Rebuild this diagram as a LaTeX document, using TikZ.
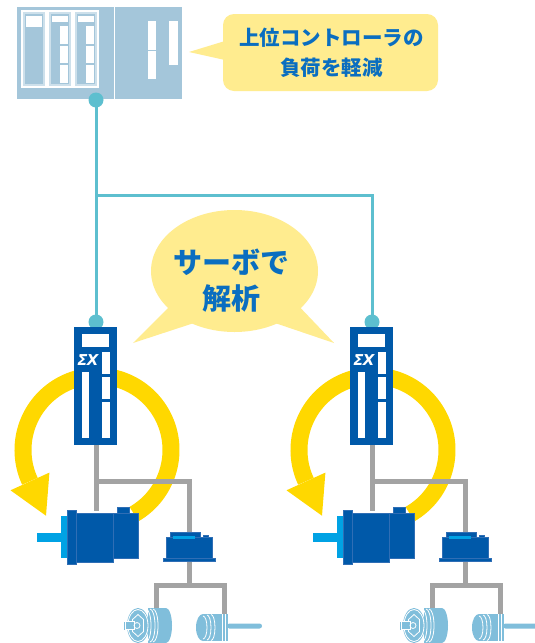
\documentclass[tikz,border=0pt]{standalone}
\usepackage{fontspec}
\newfontfamily\jpfont{Noto Sans CJK JP}
\newfontfamily\logofont{DejaVu Sans}
\definecolor{plcblue}{HTML}{A4C6DA}
\definecolor{linkteal}{HTML}{5DBFCF}
\definecolor{bubble}{HTML}{FFEC8F}
\definecolor{textblue}{HTML}{0A6EC0}
\definecolor{driveblue}{HTML}{0059A9}
\definecolor{edgeblue}{HTML}{2F6EB5}
\definecolor{ringgold}{HTML}{FFD800}
\definecolor{cablegray}{HTML}{A3A3A3}
\definecolor{flangecyan}{HTML}{00A2E4}
\definecolor{loadblue}{HTML}{80BEDB}
\tikzset{
  link/.style={draw=linkteal, line width=3pt},
  port/.style={circle, fill=linkteal, minimum size=15pt, inner sep=0},
  cable/.style={draw=cablegray, line width=5pt},
  ringarc/.style={draw=ringgold, line width=17pt},
  drivebox/.style={fill=driveblue, minimum width=43pt, minimum height=118pt, inner sep=0},
  slot/.style={fill=white},
  motorpart/.style={fill=driveblue, draw=edgeblue, line width=0.5pt},
  loadpart/.style={fill=loadblue},
  rib/.style={draw=white, line width=0.8pt},
}
\begin{document}
\begin{tikzpicture}[x=1pt, y=-1pt]
\useasboundingbox[fill=white] (0,0) rectangle (535,643);

% upper controller rack
\node[fill=plcblue, minimum width=165pt, minimum height=92pt, inner sep=0] (plc) at (99.5,53) {};
\draw[white, line width=1pt] (114,7) -- (114,99);
\foreach \mx in {22,48,74}{
  \draw[white!45!plcblue, line width=1.6pt] ({\mx+2},13) rectangle ({\mx+22},85);
  \draw[white, line width=1.1pt] (\mx,11) rectangle ({\mx+24},87);
}
\fill[slot] (26,16) rectangle (42,27);
\foreach \mx in {48,74}{
  \fill[slot] ({\mx+4},16) rectangle ({\mx+20},22);
  \fill[slot] ({\mx+12},26) rectangle ({\mx+20},44);
  \fill[slot] ({\mx+12},45.5) rectangle ({\mx+20},63);
  \fill[slot] ({\mx+12},65) rectangle ({\mx+20},83);
}
\fill[slot] (148,21) rectangle (156,49.5);
\fill[slot] (148,51) rectangle (156,79);
\fill[slot] (169,21) rectangle (178,65);

% communication link
\coordinate (plcport) at (96,100);
\coordinate (bus) at (96,195);
\coordinate (portL) at (96,322);
\coordinate (portR) at (372,322);
\draw[link] (plcport) -- (bus) -- (portL);
\draw[link] (bus) -| (portR);
\node[port] (plcdot) at (plcport) {};

% callout: load reduction
\fill[bubble, rounded corners=11pt] (223,14) rectangle (438,91);
\fill[bubble] (225,41) -- (189,52) -- (225,60) -- cycle;
\node[text=textblue, font=\jpfont\bfseries\fontsize{20.5}{30}\selectfont, align=center, inner sep=0] (noteText) at (331.5,53) {上位コントローラの\\負荷を軽減};

% callout: analysis in the servo
\fill[bubble] (234.5,271) ellipse [x radius=83.5, y radius=61];
\fill[bubble] (133,343) -- (176,300) -- (197,322) -- cycle;
\fill[bubble] (334,343) -- (293,300) -- (272,322) -- cycle;
\node[text=textblue, font=\jpfont\bfseries\fontsize{29}{36}\selectfont, align=center, inner sep=0] (servoText) at (231,281) {サーボで\\解析};

% two servo axes
\foreach \dx/\s in {0/L,276/R}{
\begin{scope}[xshift=\dx pt]
  % control loop arrow
  \draw[ringarc] (97,450) ++(60:74) arc[start angle=60, end angle=-205, radius=74];
  \fill[ringgold] (49.4,472.6) -- (46.0,515.7) -- (10.5,490.3) -- cycle;

  % cabling
  \coordinate (drvbot\s) at (96,445);
  \coordinate (tap\s) at (96,481);
  \coordinate (motor\s) at (96,511);
  \coordinate (amptop\s) at (189,533);
  \coordinate (ampbot\s) at (189,560);
  \coordinate (split\s) at (189,585);
  \coordinate (encL\s) at (156,611);
  \coordinate (encR\s) at (224,616);
  \draw[cable] (drvbot\s) -- (motor\s);
  \draw[cable] (tap\s) -| (amptop\s);
  \draw[cable] (ampbot\s) -- (split\s);
  \draw[cable] (encL\s) |- (split\s) -| (encR\s);

  % servo drive
  \node[port] (dot\s) at (96,322) {};
  \node[drivebox] (drv\s) at (95.5,386) {};
  \fill[slot] (82,334) rectangle (109,346.5);
  \fill[slot] (102,352) rectangle (109.5,374);
  \fill[slot] (102,377) rectangle (109.5,398.5);
  \fill[slot] (102,401.5) rectangle (109.5,438);
  \fill[slot] (82,372) rectangle (89,438);
  \node[text=white, font=\logofont\bfseries\itshape\fontsize{15}{15}\selectfont, inner sep=0] (logo\s) at (88,360) {Σ\kern-0.8ptX};

  % servo motor
  \fill[flangecyan] (37,533) rectangle (61,542);
  \fill[flangecyan] (61,516) rectangle (68,558);
  \draw[motorpart] (117,507) rectangle (129,514);
  \draw[motorpart] (113,513) rectangle (138,558);
  \draw[motorpart] (76,513) rectangle (113,562);
  \draw[motorpart] (67,510) rectangle (76,564);

  % small unit on the branch
  \draw[motorpart] (170,532) rectangle (200,538);
  \draw[motorpart] (203,535) rectangle (208,538);
  \draw[motorpart] (166,537) rectangle (212,559);
  \draw[motorpart] (163,558) rectangle (215,561);
  \fill[flangecyan] (173,535.5) rectangle (195,538.5);

  % load device with hexagon face
  \fill[loadpart] (148,608) rectangle (166,643);
  \fill[loadpart] (166,625.5) ellipse [x radius=6, y radius=17.5];
  \draw[rib] (146,609) arc[start angle=-90, end angle=90, x radius=5, y radius=16.5];
  \draw[rib] (150,609) arc[start angle=-90, end angle=90, x radius=5, y radius=16.5];
  \draw[rib] (153,609) arc[start angle=-90, end angle=90, x radius=5, y radius=16.5];
  \fill[loadpart] (138,625.5) ellipse [x radius=11, y radius=17.5];
  \draw[rib] (138,625.5) ellipse [x radius=10, y radius=16];
  \draw[rib] (138,614.5) -- (143.5,619.5) -- (143.5,631.5) -- (138,636.5) -- (132.5,631.5) -- (132.5,619.5) -- cycle;
  \fill[loadpart] (124,621.5) rectangle (138,629.5);
  \draw[rib] (125,621.5) rectangle (134,629.5);
  \draw[rib] (137,625.5) circle (3);

  % small load motor
  \fill[loadpart] (203,614) rectangle (228,641);
  \fill[loadpart] (203,627.5) ellipse [x radius=7, y radius=13.5];
  \draw[rib] (203,616) arc[start angle=-90, end angle=90, x radius=4, y radius=11.5];
  \draw[rib] (207,615) arc[start angle=-90, end angle=90, x radius=4, y radius=12.5];
  \draw[rib] (211,614.5) arc[start angle=-90, end angle=90, x radius=4, y radius=13];
  \draw[rib] (222,614) -- (222,641);
  \draw[rib] (225,614) -- (225,641);
  \fill[loadpart, rounded corners=2.5pt] (227,623.5) rectangle (262,628.5);
\end{scope}
}
\end{tikzpicture}
\end{document}
